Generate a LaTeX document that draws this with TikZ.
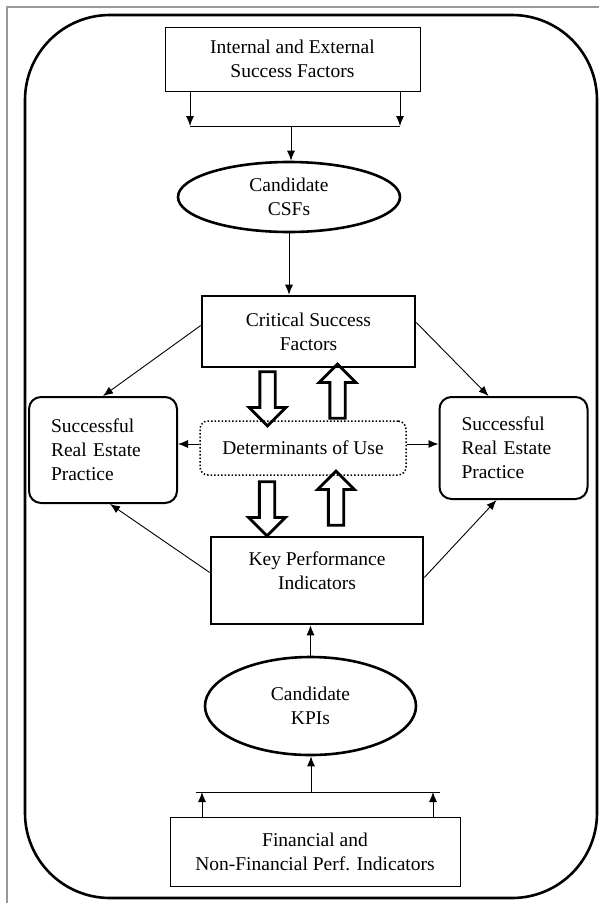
\documentclass[tikz,border=0pt]{standalone}
\usepackage{fontspec}
\setmainfont{Liberation Serif}
\usepackage{tikz}
\usetikzlibrary{positioning, arrows.meta, shapes.geometric, shapes.arrows}

\begin{document}
\begin{tikzpicture}[
    x=1pt, y=-1pt,
    >={Latex[length=10pt, width=8pt]},
    txt/.style={font=\fontsize{19.5}{24}\selectfont, align=center},
    box/.style={txt, draw, line width=0.9pt, inner sep=0pt},
    thickbox/.style={txt, draw, line width=2.6pt, inner sep=0pt},
    oval/.style={txt, draw, ellipse, line width=2.6pt, inner sep=0pt},
    practbox/.style={txt, align=left, draw, rounded corners=12pt, line width=2pt, text width=104pt, inner xsep=22pt, inner ysep=0pt, minimum width=148pt},
    detbox/.style={txt, draw, dotted, rounded corners=8pt, line width=1.5pt, inner sep=0pt},
    arrow/.style={->, line width=0.9pt},
    hollow/.style={draw, single arrow, line width=2.8pt, minimum height=54pt, minimum width=34pt, single arrow head extend=10.75pt, inner sep=6.25pt}
]
\useasboundingbox (0,0) rectangle (599,903);
\draw[gray!80, line width=1.5pt] (599,7) -- (7,7) -- (7,903);
\draw[line width=2.6pt, rounded corners=85pt] (25,15) rectangle (597,898);

% top: success factors -> CSFs
\node[box, minimum width=255pt, minimum height=64pt] (fact) at (292.5,59) {Internal and External\\Success Factors};
\node[oval, minimum width=222pt, minimum height=70pt] (csfcand) at (289,197) {Candidate\\CSFs};
\node[thickbox, minimum width=213pt, minimum height=71pt] (csf) at (308.5,331.5) {Critical Success\\Factors};

% middle
\node[practbox, minimum height=106pt] (lpract) at (103,450) {Successful\\Real Estate\\Practice};
\node[practbox, minimum height=102pt] (rpract) at (513.5,448) {Successful\\Real Estate\\Practice};
\node[detbox, minimum width=206pt, minimum height=54pt] (det) at (303,448) {Determinants of Use};

% bottom: indicators -> KPIs
\node[thickbox, minimum width=212pt, minimum height=87pt, label={[txt, yshift=10pt]center:Key Performance\\Indicators}] (kpi) at (317,580.5) {};
\node[oval, minimum width=211pt, minimum height=98pt] (kpicand) at (310.5,706) {Candidate\\KPIs};
\node[box, minimum width=290pt, minimum height=69pt] (perf) at (315,851.5) {Financial and\\Non-Financial Perf. Indicators};

\coordinate (tl) at (190,126);
\coordinate (tr) at (400,126);
\coordinate (tm) at (291,126);
\coordinate (bl) at (202,792);
\coordinate (br) at (433,792);
\coordinate (bm) at (311,792);

\draw[arrow] (fact.south -| tl) -- (tl);
\draw[arrow] (fact.south -| tr) -- (tr);
\draw[line width=0.9pt] (tl) -- (tr);
\draw[arrow] (tm) -- (tm |- csfcand.north);
\draw[arrow] (csfcand.south) -- (csfcand.south |- csf.north);

\draw[arrow] ([yshift=6pt]csf.west) -- (lpract.north);
\draw[arrow] ([yshift=9pt]csf.east) -- ([xshift=-25pt]rpract.north);
\draw[arrow] ([yshift=8pt]kpi.west) -- ([xshift=7pt]lpract.south);
\draw[arrow] ([yshift=3pt]kpi.east) -- ([xshift=-17pt]rpract.south);
\draw[arrow] ([yshift=4pt]det.west) -- ([yshift=4pt]det.west -| lpract.east);
\draw[arrow] ([yshift=4pt]det.east) -- ([yshift=4pt]det.east -| rpract.west);

\node[hollow, shape border rotate=270] (csfdown) at (267.5,395) {};
\node[hollow, shape border rotate=90] (csfup) at (337.5,395) {};
\node[hollow, shape border rotate=270] (kpidown) at (267,505) {};
\node[hollow, shape border rotate=90] (kpiup) at (336,502) {};

\draw[arrow] (kpicand.north) -- (kpicand.north |- kpi.south);
\draw[arrow] (bm) -- (bm |- kpicand.south);
\draw[line width=0.9pt] (196,792) -- (440,792);
\draw[arrow] (perf.north -| bl) -- (bl);
\draw[arrow] (perf.north -| br) -- (br);
\end{tikzpicture}
\end{document}
